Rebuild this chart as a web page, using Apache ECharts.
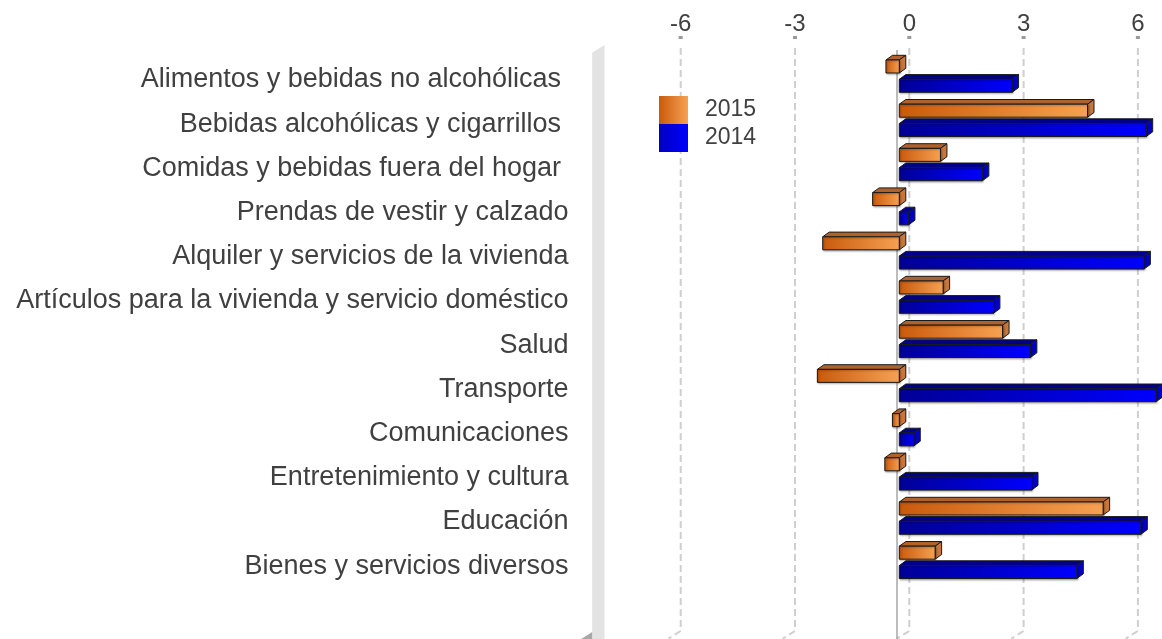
<!DOCTYPE html>
<html>
<head>
<meta charset="utf-8">
<script src="https://cdn.jsdelivr.net/npm/echarts@6/dist/echarts.min.js"></script>
<style>
  html, body { margin: 0; padding: 0; background: #ffffff; }
  #chart { width: 1162px; height: 639px; }
</style>
</head>
<body>
<div id="chart"></div>
<script>
// Variación por división de gasto, 2015 frente a 2014
const categories = [
  'Alimentos y bebidas no alcohólicas ',
  'Bebidas alcohólicas y cigarrillos ',
  'Comidas y bebidas fuera del hogar ',
  'Prendas de vestir y calzado',
  'Alquiler y servicios de la vivienda',
  'Artículos para la vivienda y servicio doméstico',
  'Salud',
  'Transporte',
  'Comunicaciones',
  'Entretenimiento y cultura',
  'Educación',
  'Bienes y servicios diversos'
];
const values2015 = [-0.35, 4.94, 1.08, -0.70, -2.01, 1.15, 2.71, -2.15, -0.18, -0.38, 5.35, 0.94];
const values2014 = [2.96, 6.48, 2.18, 0.24, 6.42, 2.47, 3.44, 6.74, 0.38, 3.47, 6.34, 4.66];
const tickValues = [-6, -3, 0, 3, 6];
const axisMin = -8;
const axisMax = 7;

// ---- layout of the pseudo-3D box ----
const UNIT = 38.1;              // px per unit on the value axis
const BACK_ZERO = 909.3;        // x of 0 on the back wall
const BAR_ZERO = 899.3;         // x of 0 on the bars' front face
const DEPTH_DX = 12.3, DEPTH_DY = 7.7;  // back wall -> front edge
const BAR_DX = 6.5, BAR_DY = 4.7;       // bar front -> bar back
const BAR_H = 13;
const FONT = '"Liberation Sans", Arial, sans-serif';
const TEXT = '#404040';

const G = echarts.graphic;
const grad = (a, b) => new G.LinearGradient(0, 0, 1, 0, [
  { offset: 0, color: a }, { offset: 1, color: b }
]);

const palette = {
  '2015': { front: ['#c95a0c', '#f7a152'], top: '#b0622c', side: '#c7773e', dy: -20 },
  '2014': { front: ['#000096', '#0000ff'], top: '#00008a', side: '#0000c8', dy: -0.7 }
};

function barRenderer(key) {
  const pal = palette[key];
  return function (params, api) {
    const v = api.value(0);
    const i = api.value(1);
    const p0 = api.coord([0, i]);
    const p1 = api.coord([v, i]);
    const y = p0[1] + pal.dy;
    const xl = Math.min(p0[0], p1[0]);
    const xr = Math.max(p0[0], p1[0]);
    const h = BAR_H;
    const edge = { stroke: '#1a1a1a', lineWidth: 1, lineJoin: 'round' };
    return {
      type: 'group',
      children: [
        {
          type: 'polygon',
          shape: { points: [[xl, y], [xl + BAR_DX, y - BAR_DY], [xr + BAR_DX, y - BAR_DY], [xr, y]] },
          style: Object.assign({ fill: pal.top }, edge)
        },
        {
          type: 'polygon',
          shape: { points: [[xr, y], [xr + BAR_DX, y - BAR_DY], [xr + BAR_DX, y + h - BAR_DY], [xr, y + h]] },
          style: Object.assign({ fill: pal.side }, edge)
        },
        {
          type: 'rect',
          shape: { x: xl, y: y, width: xr - xl, height: h },
          style: Object.assign({
            fill: grad(pal.front[0], pal.front[1]),
            shadowColor: 'rgba(0,0,0,0.3)', shadowBlur: 2, shadowOffsetX: 1, shadowOffsetY: 1
          }, edge)
        }
      ]
    };
  };
}

// back-wall gridlines running down and onto the floor, tick marks, and the solid zero line
function gridRenderer(params, api) {
  const v = api.value(0);
  const x = api.coord([v, 0])[0];
  const cs = params.coordSys;
  const top = cs.y + 9;
  const bottom = cs.y + cs.height;
  const children = [
    {
      type: 'polyline',
      shape: { points: [[x, top], [x, bottom], [x - DEPTH_DX, bottom + DEPTH_DY]] },
      style: { fill: null, stroke: '#cfcfcf', lineWidth: 2, lineDash: [7, 4] }
    },
    {
      type: 'rect',
      shape: { x: x - 2, y: cs.y - 3, width: 4, height: 3 },
      style: { fill: '#9a9a9a' }
    }
  ];
  if (v === 0) {
    children.push({
      type: 'line',
      shape: { x1: x - DEPTH_DX, y1: top + 2, x2: x - DEPTH_DX, y2: bottom + DEPTH_DY + 2 },
      style: { stroke: '#7a7a7a', lineWidth: 1 }
    });
  }
  return { type: 'group', children: children };
}

// left side wall seen edge-on, with the floor corner under it
function wallRenderer(params, api) {
  const x = api.coord([api.value(0), 0])[0];
  const cs = params.coordSys;
  const top = cs.y + 6;
  const bottom = cs.y + cs.height + 12;
  return {
    type: 'group',
    children: [
      {
        type: 'polygon',
        shape: { points: [[x - DEPTH_DX, top + DEPTH_DY], [x, top], [x, bottom], [x - DEPTH_DX, bottom]] },
        style: { fill: '#e3e3e3' }
      },
      {
        type: 'polygon',
        shape: { points: [[x - DEPTH_DX - 11, cs.y + cs.height + 8], [x - DEPTH_DX, cs.y + cs.height + 1], [x - DEPTH_DX, cs.y + cs.height + 8]] },
        style: { fill: '#a8a8a8' }
      }
    ]
  };
}

const span = (axisMax - axisMin) * UNIT;

const chart = echarts.init(document.getElementById('chart'), null, { renderer: 'canvas' });
chart.setOption({
  backgroundColor: '#ffffff',
  animation: false,
  textStyle: { fontFamily: FONT },
  legend: {
    orient: 'vertical',
    left: 659,
    top: 96,
    padding: 0,
    itemGap: 0,
    itemWidth: 29,
    itemHeight: 28,
    icon: 'rect',
    textStyle: { fontSize: 23, color: TEXT, fontFamily: FONT, padding: [0, 0, 0, 12] },
    data: [
      { name: '2015', itemStyle: { color: grad('#c95a0c', '#f7a152') } },
      { name: '2014', itemStyle: { color: grad('#0000c0', '#0000ff') } }
    ]
  },
  grid: [
    { left: BACK_ZERO + axisMin * UNIT, width: span, top: 39, height: 592, outerBoundsMode: 'none', containLabel: false },
    { left: BAR_ZERO + axisMin * UNIT, width: span, top: 57.9, height: 530.4, outerBoundsMode: 'none', containLabel: false }
  ],
  xAxis: [
    {
      gridIndex: 0, type: 'value', position: 'top', min: axisMin, max: axisMax,
      axisLine: { show: false },
      axisTick: { show: false },
      axisLabel: { customValues: tickValues, margin: 3, fontSize: 24, color: TEXT, fontFamily: FONT },
      splitLine: { show: false }
    },
    {
      gridIndex: 1, type: 'value', min: axisMin, max: axisMax, show: false
    }
  ],
  yAxis: [
    { gridIndex: 0, type: 'value', min: 0, max: 1, show: false },
    {
      gridIndex: 1, type: 'category', inverse: true, data: categories,
      axisLine: { show: false }, axisTick: { show: false }, splitLine: { show: false },
      axisLabel: { margin: 26, fontSize: 27, color: TEXT, fontFamily: FONT }
    }
  ],
  series: [
    {
      type: 'custom', name: 'wall', xAxisIndex: 0, yAxisIndex: 0, silent: true, z: 1,
      data: [[axisMin]], renderItem: wallRenderer
    },
    {
      type: 'custom', name: 'grid', xAxisIndex: 0, yAxisIndex: 0, silent: true, z: 1,
      data: tickValues.map(v => [v]), renderItem: gridRenderer
    },
    {
      type: 'custom', name: '2015', xAxisIndex: 1, yAxisIndex: 1, z: 3,
      itemStyle: { color: '#e07d2e' },
      encode: { x: 0, y: 1 },
      data: values2015.map((v, i) => [v, i]),
      renderItem: barRenderer('2015')
    },
    {
      type: 'custom', name: '2014', xAxisIndex: 1, yAxisIndex: 1, z: 3,
      itemStyle: { color: '#0000e0' },
      encode: { x: 0, y: 1 },
      data: values2014.map((v, i) => [v, i]),
      renderItem: barRenderer('2014')
    }
  ]
});
</script>
</body>
</html>
